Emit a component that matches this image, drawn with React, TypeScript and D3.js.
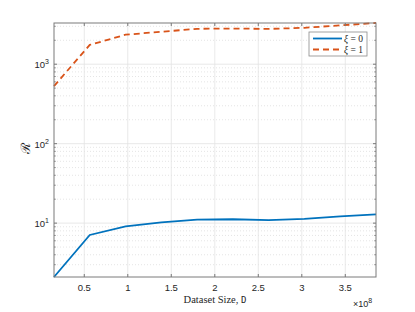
import React from 'react'
import { scaleLinear, scaleLog, line } from 'd3'

// dataset sizes (x 1e8)
const sizes = [0.152, 0.563, 0.975, 1.386, 1.797, 2.208, 2.619, 3.03, 3.442, 3.853]
const xiZero = [2.1, 7.1, 9.1, 10.2, 11.1, 11.2, 10.9, 11.3, 12.2, 12.9]
const xiOne = [530, 1750, 2350, 2560, 2790, 2810, 2780, 2870, 3080, 3300]
const xTicks = [0.5, 1, 1.5, 2, 2.5, 3, 3.5]
const yDecades = [1, 2, 3]
const legendLabels = ['ξ = 0', 'ξ = 1']

const W = 415
const H = 312
const margin = { top: 23, right: 39, bottom: 35, left: 54 }
const blue = '#0072BD'
const orange = '#D95319'
const axisCol = '#7a7a7a'

export default function App() {
    const x = scaleLinear()
        .domain([sizes[0], sizes[sizes.length - 1]])
        .range([margin.left, W - margin.right])
    const y = scaleLog()
        .domain([2.1, 3300])
        .range([H - margin.bottom, margin.top])

    const path = line<number>()
        .x((_, i) => x(sizes[i]))
        .y((d) => y(d))

    const [y0, y1] = y.domain()
    const minor: number[] = []
    for (let e = 0; e <= 3; e++) {
        for (let m = 2; m <= 9; m++) {
            const v = m * Math.pow(10, e)
            if (v >= y0 && v <= y1) minor.push(v)
        }
    }

    const left = margin.left
    const right = W - margin.right
    const top = margin.top
    const bottom = H - margin.bottom

    return (
        <svg width={W} height={H} style={{ position: 'absolute', left: 0, top: 0 }}>
            <rect x={0} y={0} width={W} height={H} fill="#fff" />
            <rect x={left} y={top} width={right - left} height={bottom - top} fill="#fff" />

            {/* minor grid */}
            {minor.map((v) => (
                <line key={'mg' + v} x1={left} x2={right} y1={y(v)} y2={y(v)}
                    stroke="#d4d4d4" strokeWidth={0.6} strokeDasharray="1,2" />
            ))}
            {/* major grid */}
            {yDecades.map((e) => (
                <line key={'yg' + e} x1={left} x2={right} y1={y(Math.pow(10, e))} y2={y(Math.pow(10, e))}
                    stroke="#e3e3e3" strokeWidth={0.8} />
            ))}
            {xTicks.map((t) => (
                <line key={'xg' + t} x1={x(t)} x2={x(t)} y1={top} y2={bottom}
                    stroke="#e3e3e3" strokeWidth={0.8} />
            ))}

            {/* series */}
            <path d={path(xiZero) || ''} fill="none" stroke={blue} strokeWidth={1.8} />
            <path d={path(xiOne) || ''} fill="none" stroke={orange} strokeWidth={1.8} strokeDasharray="6,4" />

            {/* box */}
            <rect x={left} y={top} width={right - left} height={bottom - top} fill="none" stroke={axisCol} strokeWidth={1} />

            {/* x ticks */}
            {xTicks.map((t) => (
                <g key={'xt' + t}>
                    <line x1={x(t)} x2={x(t)} y1={bottom} y2={bottom - 3} stroke={axisCol} />
                    <line x1={x(t)} x2={x(t)} y1={top} y2={top + 3} stroke={axisCol} />
                    <text x={x(t)} y={bottom + 14} textAnchor="middle" fontSize={9.5}
                        fontFamily="Liberation Sans, Arial, sans-serif" fill="#262626">{t}</text>
                </g>
            ))}

            {/* y ticks */}
            {yDecades.map((e) => (
                <g key={'yt' + e}>
                    <line x1={left} x2={left + 3} y1={y(Math.pow(10, e))} y2={y(Math.pow(10, e))} stroke={axisCol} />
                    <line x1={right} x2={right - 3} y1={y(Math.pow(10, e))} y2={y(Math.pow(10, e))} stroke={axisCol} />
                    <text x={left - 5} y={y(Math.pow(10, e)) + 4} textAnchor="end" fontSize={9.5}
                        fontFamily="Liberation Sans, Arial, sans-serif" fill="#262626">
                        10<tspan dy={-4} fontSize={7}>{e}</tspan>
                    </text>
                </g>
            ))}
            {minor.map((v) => (
                <g key={'ym' + v}>
                    <line x1={left} x2={left + 1.8} y1={y(v)} y2={y(v)} stroke={axisCol} strokeWidth={0.8} />
                    <line x1={right} x2={right - 1.8} y1={y(v)} y2={y(v)} stroke={axisCol} strokeWidth={0.8} />
                </g>
            ))}

            {/* axis labels */}
            <text x={(left + right) / 2} y={bottom + 26} textAnchor="middle" fontSize={10.5}
                fontFamily="Liberation Serif, DejaVu Serif, serif" fill="#262626">
                Dataset Size, <tspan fontFamily="DejaVu Sans Mono, monospace" fontSize={9}>D</tspan>
            </text>
            <text x={right - 23} y={bottom + 30} fontSize={9}
                fontFamily="Liberation Sans, Arial, sans-serif" fill="#262626">
                ×10<tspan dy={-4} fontSize={7}>8</tspan>
            </text>
            <text transform={`translate(30,${(top + bottom) / 2 - 2}) rotate(-90)`} textAnchor="middle" fontSize={13}
                fontFamily="DejaVu Serif, serif" fill="#262626">ℛ</text>

            {/* legend */}
            <g transform="translate(309,32)">
                <rect x={0} y={0} width={58} height={24} fill="#fff" stroke="#8a8a8a" strokeWidth={0.8} />
                <line x1={4} x2={33} y1={6.5} y2={6.5} stroke={blue} strokeWidth={1.8} />
                <line x1={4} x2={33} y1={17.5} y2={17.5} stroke={orange} strokeWidth={1.8} strokeDasharray="6,4" />
                {legendLabels.map((l, i) => (
                    <text key={l} x={35} y={10 + i * 11} fontSize={9.5}
                        fontFamily="Liberation Serif, DejaVu Serif, serif" fill="#262626">
                        <tspan fontStyle="italic">{l.slice(0, 1)}</tspan>{l.slice(1)}
                    </text>
                ))}
            </g>
        </svg>
    )
}
